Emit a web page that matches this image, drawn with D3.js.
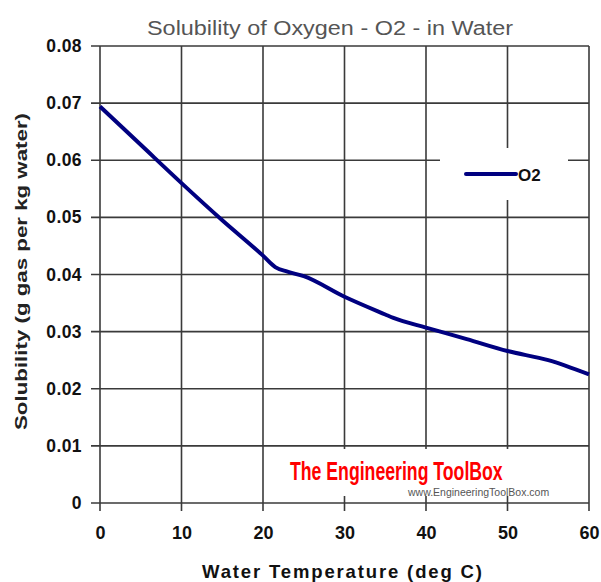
<!DOCTYPE html>
<html><head><meta charset="utf-8">
<script src="https://cdn.jsdelivr.net/npm/d3@7"></script>
<style>body{margin:0;background:#fff}svg{display:block}</style>
</head><body>
<svg id="c" width="601" height="582"></svg>
<script>
const temps = [0, 5, 10, 15, 20, 21.5, 23, 25, 30, 35, 36, 40, 45, 50, 55, 60];
const o2 = [0.0694, 0.0627, 0.0560, 0.0495, 0.0433, 0.0413, 0.0405, 0.0397, 0.0361, 0.0330, 0.0324, 0.0307, 0.0287, 0.0266, 0.0250, 0.0225];
const xTicks = [0, 10, 20, 30, 40, 50, 60];
const yTicks = [0, 0.01, 0.02, 0.03, 0.04, 0.05, 0.06, 0.07, 0.08];
const yTickLabels = ["0", "0.01", "0.02", "0.03", "0.04", "0.05", "0.06", "0.07", "0.08"];
const seriesName = "O2";
const title = "Solubility of Oxygen - O2 - in Water";
const xTitle = "Water Temperature (deg C)";
const yTitle = "Solubility (g gas per kg water)";

const svg = d3.select("#c");
const L = 100, R = 589, T = 46, B = 503;
const x = d3.scaleLinear().domain([0, 60]).range([L, R]);
const y = d3.scaleLinear().domain([0, 0.08]).range([B, T]);
const font = "'Liberation Sans', Arial, sans-serif";

// grid
const gridColor = "#3a3a3a";
svg.append("g").selectAll("line").data(yTicks).join("line")
  .attr("x1", L - 9).attr("x2", R).attr("y1", d => y(d)).attr("y2", d => y(d))
  .attr("stroke", gridColor).attr("stroke-width", 1.6);
svg.append("g").selectAll("line").data(xTicks).join("line")
  .attr("x1", d => x(d)).attr("x2", d => x(d)).attr("y1", T).attr("y2", B + 8)
  .attr("stroke", gridColor).attr("stroke-width", 1.6);

// y tick labels
const yAxis = d3.axisLeft(y).tickValues(yTicks).tickSize(0).tickPadding(18)
  .tickFormat((d, i) => yTickLabels[i]);
const gy = svg.append("g").attr("transform", `translate(${L},0)`).call(yAxis);
gy.select(".domain").remove();
gy.selectAll("text").attr("font-family", font).attr("font-weight", "bold")
  .attr("font-size", 17.5).attr("fill", "#111").attr("letter-spacing", 0.4);

const xAxis = d3.axisBottom(x).tickValues(xTicks).tickSize(0).tickPadding(23)
  .tickFormat(d3.format("d"));
const gx = svg.append("g").attr("transform", `translate(0,${B})`).call(xAxis);
gx.select(".domain").remove();
gx.selectAll("text").attr("font-family", font).attr("font-weight", "bold")
  .attr("font-size", 18).attr("fill", "#111");

// watermark background
svg.append("rect").attr("x", 272).attr("y", 449).attr("width", 284).attr("height", 47).attr("fill", "#fff");
svg.append("text").attr("transform", "translate(290,480) scale(0.68,1)")
  .attr("font-family", font)
  .attr("font-size", 26).attr("font-weight", "bold").attr("fill", "#ff0000")
  .text("The Engineering ToolBox");
svg.append("text").attr("transform", "translate(408,496) scale(1.05,1)")
  .attr("font-family", font)
  .attr("font-size", 10).attr("fill", "#555")
  .text("www.EngineeringToolBox.com");

// legend background
svg.append("rect").attr("x", 440).attr("y", 148).attr("width", 128).attr("height", 52).attr("fill", "#fff");

// data line
const pts = temps.map((t, i) => [t, o2[i]]);
svg.append("path").datum(pts)
  .attr("d", d3.line().x(d => x(d[0])).y(d => y(d[1])).curve(d3.curveMonotoneX))
  .attr("fill", "none").attr("stroke", "#000080").attr("stroke-width", 4)
  .attr("stroke-linejoin", "round");

// legend
svg.append("line").attr("x1", 466).attr("x2", 516).attr("y1", 174).attr("y2", 174)
  .attr("stroke", "#000080").attr("stroke-width", 4).attr("stroke-linecap", "round");
svg.append("text").attr("x", 518).attr("y", 180.5).attr("font-family", font)
  .attr("font-weight", "bold").attr("font-size", 17).attr("fill", "#111").text(seriesName);

// titles
svg.append("text").attr("x", 147).attr("y", 35)
  .attr("font-family", font).attr("font-size", 20).attr("fill", "#555")
  .attr("textLength", 366).attr("lengthAdjust", "spacingAndGlyphs").text(title);
svg.append("text").attr("x", 202).attr("y", 578)
  .attr("font-family", font).attr("font-weight", "bold").attr("font-size", 18.5)
  .attr("fill", "#111").attr("textLength", 280).attr("lengthAdjust", "spacing").text(xTitle);
svg.append("text").attr("transform", "translate(27,430) rotate(-90)")
  .attr("font-family", font).attr("font-weight", "bold").attr("font-size", 17)
  .attr("fill", "#222").attr("textLength", 317).attr("lengthAdjust", "spacingAndGlyphs").text(yTitle);
</script>
</body></html>
